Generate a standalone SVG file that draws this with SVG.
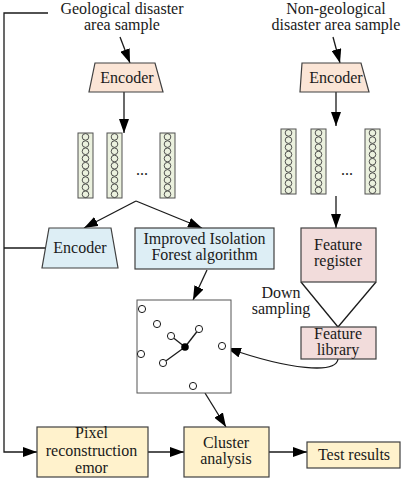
<svg xmlns="http://www.w3.org/2000/svg" width="404" height="480" viewBox="0 0 404 480">
<style>
text{font-family:'Liberation Serif','Times New Roman',serif;font-size:16px;fill:#1a1a1a;text-anchor:middle}
.b{stroke:#404040;stroke-width:1.2}
.peach{fill:#fbe5d6}
.blue{fill:#ddeef5}
.pink{fill:#f2dcdb}
.yel{fill:#fff2cc}
.col{fill:#ebf1de;stroke:#505050;stroke-width:1}
.c{fill:none;stroke:#404040;stroke-width:0.9}
.ln{fill:none;stroke:#1a1a1a;stroke-width:1.3}
.pt{fill:#fff;stroke:#1a1a1a;stroke-width:1}
</style>
<defs>
<marker id="ah" viewBox="0 0 14 10" refX="14" refY="5" markerWidth="14" markerHeight="10" markerUnits="userSpaceOnUse" orient="auto">
<path d="M0,0 L14,5 L0,10 z" fill="#000"/>
</marker>
<g id="column">
<rect class="col" x="0" y="0" width="15" height="65"/>
<circle class="c" cx="7.5" cy="3.9" r="3.3"/>
<circle class="c" cx="7.5" cy="11.1" r="3.3"/>
<circle class="c" cx="7.5" cy="18.3" r="3.3"/>
<circle class="c" cx="7.5" cy="25.5" r="3.3"/>
<circle class="c" cx="7.5" cy="32.7" r="3.3"/>
<circle class="c" cx="7.5" cy="39.9" r="3.3"/>
<circle class="c" cx="7.5" cy="47.1" r="3.3"/>
<circle class="c" cx="7.5" cy="54.3" r="3.3"/>
<circle class="c" cx="7.5" cy="61.3" r="3.3"/>
</g>
</defs>
<rect width="404" height="480" fill="#fff"/>

<g id="connectors">
<polyline class="ln" points="48,13 4,13 4,452 37,452" marker-end="url(#ah)"/>
<line class="ln" x1="4" y1="248" x2="46" y2="248"/>
<line class="ln" x1="120" y1="37" x2="130" y2="63" marker-end="url(#ah)"/>
<line class="ln" x1="124" y1="92" x2="124" y2="133" marker-end="url(#ah)"/>
<line class="ln" x1="136" y1="201" x2="84" y2="228" marker-end="url(#ah)"/>
<line class="ln" x1="136" y1="201" x2="202" y2="228" marker-end="url(#ah)"/>
<line class="ln" x1="333" y1="37" x2="340" y2="63" marker-end="url(#ah)"/>
<line class="ln" x1="336" y1="92" x2="336" y2="126" marker-end="url(#ah)"/>
<line class="ln" x1="336" y1="196" x2="336" y2="228" marker-end="url(#ah)"/>
<line class="ln" x1="207" y1="270" x2="193" y2="300" marker-end="url(#ah)"/>
<line class="ln" x1="301" y1="282" x2="338" y2="327"/>
<line class="ln" x1="376" y1="282" x2="338" y2="327"/>
<path class="ln" d="M338,359 C336,374 290,370 227,348" marker-end="url(#ah)"/>
<line class="ln" x1="205" y1="393" x2="226" y2="427" marker-end="url(#ah)"/>
<line class="ln" x1="148" y1="452" x2="184" y2="452" marker-end="url(#ah)"/>
<line class="ln" x1="269" y1="452" x2="307" y2="452" marker-end="url(#ah)"/>
</g>

<g id="geo-sample"><text x="122" y="14">Geological disaster</text><text x="122" y="30">area sample</text></g>
<g id="nongeo-sample"><text x="336" y="14">Non-geological</text><text x="336" y="30">disaster area sample</text></g>

<g id="encoder1"><polygon class="b peach" points="95,63 155,63 163,92 89,92"/><text x="127" y="83">Encoder</text></g>
<g id="encoder2"><polygon class="b peach" points="302,63 361,63 369,92 300,92"/><text x="336" y="83">Encoder</text></g>

<g id="features-left">
<use href="#column" x="78" y="133"/>
<use href="#column" x="107" y="133"/>
<use href="#column" x="160" y="133"/>
<text x="142" y="175">...</text>
</g>
<g id="features-right">
<use href="#column" x="281" y="129"/>
<use href="#column" x="311" y="129"/>
<use href="#column" x="365" y="129"/>
<text x="347" y="175">...</text>
</g>

<g id="encoder-blue"><polygon class="b blue" points="49,228 111,228 118,268 42,268"/><text x="80" y="253">Encoder</text></g>
<g id="iforest"><rect class="b blue" x="135" y="228" width="139" height="41"/><text x="204.5" y="244">Improved Isolation</text><text x="204.5" y="260">Forest algorithm</text></g>

<g id="feature-register"><rect class="b pink" x="301" y="228" width="75" height="54"/><text x="338" y="250">Feature</text><text x="338" y="266">register</text></g>
<g id="down-sampling"><text x="281" y="298">Down</text><text x="281" y="314">sampling</text></g>
<g id="feature-library"><rect class="b pink" x="301" y="327" width="75" height="32"/><text x="338" y="339">Feature</text><text x="338" y="355">library</text></g>

<g id="scatter">
<rect x="137" y="300" width="94" height="93" fill="#fff" stroke="#555" stroke-width="1"/>
<line class="ln" stroke-width="1" x1="185" y1="347" x2="171" y2="336"/>
<line class="ln" stroke-width="1" x1="185" y1="347" x2="199" y2="329"/>
<line class="ln" stroke-width="1" x1="185" y1="347" x2="163" y2="363"/>
<circle class="pt" cx="142" cy="309" r="3.6"/>
<circle class="pt" cx="157" cy="324" r="3.6"/>
<circle class="pt" cx="171" cy="336" r="3.6"/>
<circle class="pt" cx="199" cy="329" r="3.6"/>
<circle class="pt" cx="141" cy="354" r="3.6"/>
<circle class="pt" cx="163" cy="363" r="3.6"/>
<circle class="pt" cx="193" cy="386" r="3.6"/>
<circle class="pt" cx="222" cy="346" r="3.6"/>
<circle cx="185" cy="347" r="3.8" fill="#000"/>
</g>

<g id="pixel"><rect class="b yel" x="37" y="427" width="111" height="50"/><text x="91.5" y="438">Pixel</text><text x="91.5" y="456">reconstruction</text><text x="91.5" y="473">emor</text></g>
<g id="cluster"><rect class="b yel" x="184" y="427" width="85" height="50"/><text x="226" y="448">Cluster</text><text x="226" y="464">analysis</text></g>
<g id="test"><rect class="b yel" x="307" y="442" width="93" height="26"/><text x="354" y="460">Test results</text></g>
</svg>
